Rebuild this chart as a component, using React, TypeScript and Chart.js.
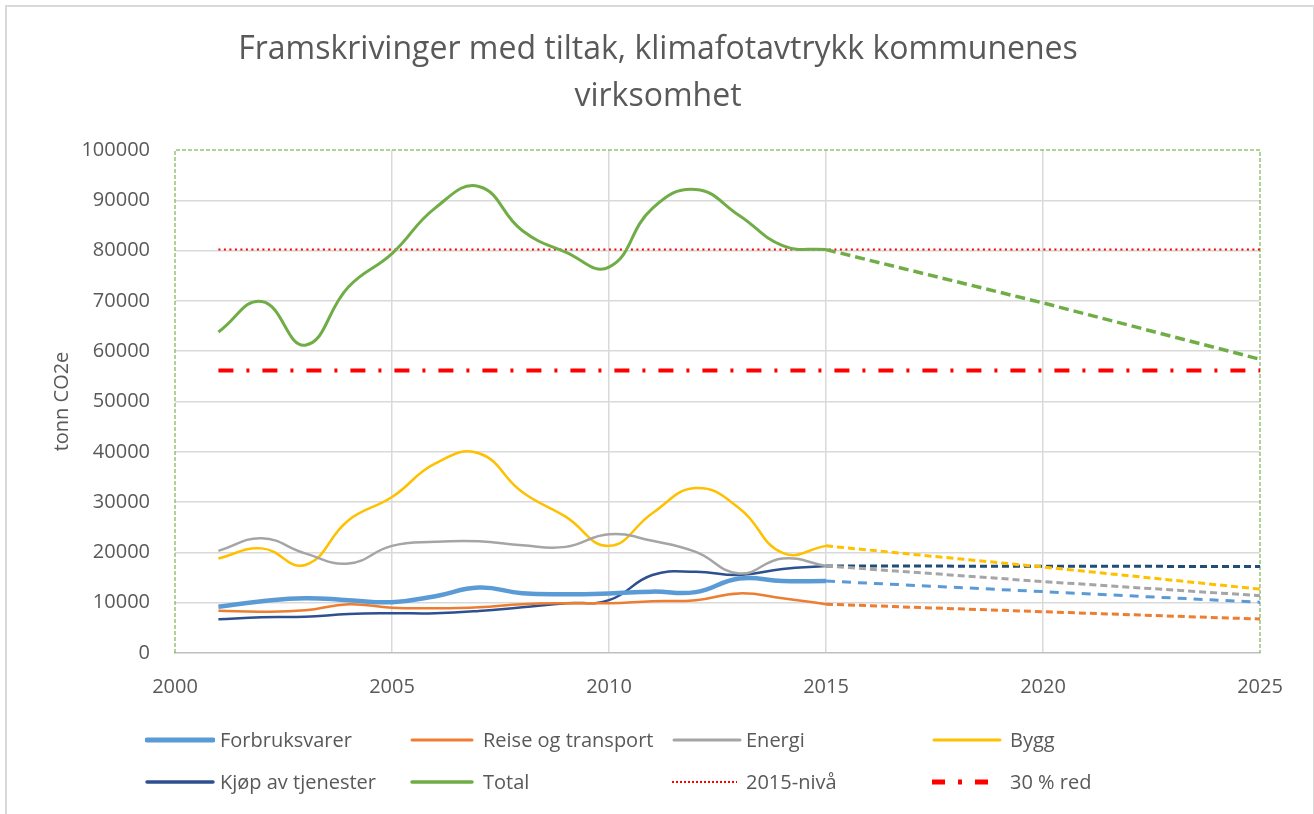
import React, { useEffect, useRef } from "react";
import { Chart, registerables } from "chart.js";

Chart.register(...registerables);

const titleLines = ["Framskrivinger med tiltak, klimafotavtrykk kommunenes", "virksomhet"];
const yAxisTitle = "tonn CO2e";

const years = [2001, 2002, 2003, 2004, 2005, 2006, 2007, 2008, 2009, 2010, 2011, 2012, 2013, 2014, 2015];
const forbruksvarer = [9200, 10300, 10900, 10500, 10100, 11300, 13000, 11900, 11700, 11850, 12200, 12100, 14800, 14300, 14300];
const reise = [8400, 8200, 8500, 9700, 9000, 8900, 9100, 9700, 9900, 9900, 10300, 10500, 11850, 10900, 9700];
const energi = [20300, 22800, 19800, 17800, 21300, 22100, 22200, 21400, 21100, 23600, 22300, 20100, 15800, 18800, 17300];
const bygg = [18800, 20800, 17500, 26400, 31000, 37700, 39700, 32000, 27100, 21300, 27800, 32800, 28800, 19900, 21300];
const kjop = [6700, 7100, 7200, 7750, 7900, 7900, 8350, 9100, 9900, 10500, 15500, 16150, 15500, 16700, 17300];
const total = [63800, 69900, 61200, 72800, 79400, 88500, 92750, 84000, 79700, 76700, 88400, 92150, 87000, 81000, 80200];

const projYears = [2015, 2020, 2025];
const forbruksProj = [14300, 12200, 10100];
const reiseProj = [9700, 8200, 6750];
const energiProj = [17300, 14200, 11400];
const byggProj = [21300, 17100, 12700];
const kjopProj = [17300, 17250, 17200];
const totalProj = [80200, 69600, 58400];

const refYears = [2001, 2025];
const nivaa2015 = [80200, 80200];
const red30 = [56140, 56140];

const legendLabels = [
  "Forbruksvarer", "Reise og transport", "Energi", "Bygg",
  "Kjøp av tjenester", "Total", "2015-nivå", "30 % red",
];

const FONT = "'Open Sans', 'Noto Sans', sans-serif";
const TXT = "#595959";

const pts = (xs: number[], ys: number[]) => xs.map((x, i) => ({ x, y: ys[i] }));

const boxPlugin = {
  id: "greenBox",
  beforeDatasetsDraw(chart: any) {
    const { ctx, chartArea } = chart;
    ctx.save();
    ctx.strokeStyle = "rgba(112,173,71,0.75)";
    ctx.lineWidth = 1.5;
    ctx.setLineDash([4, 2]);
    ctx.beginPath();
    ctx.moveTo(chartArea.left, chartArea.bottom);
    ctx.lineTo(chartArea.left, chartArea.top);
    ctx.lineTo(chartArea.right, chartArea.top);
    ctx.lineTo(chartArea.right, chartArea.bottom);
    ctx.stroke();
    ctx.restore();
  },
};

type Sample = { color: string; width: number; dash?: string; len: number; cap: "butt" | "round" };
const samples: Sample[] = [
  { color: "#5B9BD5", width: 5, len: 68, cap: "round" },
  { color: "#ED7D31", width: 3, len: 62, cap: "round" },
  { color: "#A5A5A5", width: 3, len: 68, cap: "round" },
  { color: "#FFC000", width: 3, len: 68, cap: "round" },
  { color: "#2E5090", width: 3.5, len: 68, cap: "round" },
  { color: "#70AD47", width: 3.5, len: 62, cap: "round" },
  { color: "#FF0000", width: 2, dash: "2 2", len: 65, cap: "butt" },
  { color: "#FF0000", width: 5, dash: "13 13 4 13", len: 58, cap: "butt" },
];
const colLeft = [145, 410, 672, 932];
const textLeft = [220, 483, 746, 1010];
const rowCenter = [740, 782];

export default function App() {
  const ref = useRef<HTMLCanvasElement | null>(null);

  useEffect(() => {
    if (!ref.current) return;
    const solid = (label: string, data: number[], color: string, width: number) => ({
      label,
      data: pts(years, data),
      borderColor: color,
      backgroundColor: color,
      borderWidth: width,
      pointRadius: 0,
      tension: 0.45,
      fill: false,
    });
    const dashed = (label: string, data: number[], color: string, width: number, dash: number[]) => ({
      label,
      data: pts(projYears, data),
      borderColor: color,
      backgroundColor: color,
      borderWidth: width,
      borderDash: dash,
      pointRadius: 0,
      tension: 0,
      fill: false,
    });
    const chart = new Chart(ref.current, {
      type: "line",
      data: {
        datasets: [
          solid("Forbruksvarer", forbruksvarer, "#5B9BD5", 4.5),
          dashed("Forbruksvarer proj", forbruksProj, "#5B9BD5", 3, [9, 7]),
          solid("Reise og transport", reise, "#ED7D31", 2.5),
          dashed("Reise proj", reiseProj, "#ED7D31", 3, [7, 4]),
          solid("Energi", energi, "#A5A5A5", 2.5),
          dashed("Energi proj", energiProj, "#A5A5A5", 3, [7, 4]),
          solid("Bygg", bygg, "#FFC000", 2.5),
          dashed("Bygg proj", byggProj, "#FFC000", 3, [7, 4]),
          solid("Kjøp av tjenester", kjop, "#2E5090", 2.5),
          dashed("Kjøp proj", kjopProj, "#1F4E79", 3, [7, 4]),
          solid("Total", total, "#70AD47", 3),
          dashed("Total proj", totalProj, "#70AD47", 3.5, [10, 5]),
          {
            label: "2015-nivå",
            data: pts(refYears, nivaa2015),
            borderColor: "#FF0000",
            borderWidth: 2,
            borderDash: [2, 3.5],
            pointRadius: 0,
            tension: 0,
          },
          {
            label: "30 % red",
            data: pts(refYears, red30),
            borderColor: "#FF0000",
            borderWidth: 4,
            borderDash: [15, 13, 3, 13],
            pointRadius: 0,
            tension: 0,
          },
        ],
      },
      options: {
        animation: false,
        responsive: false,
        maintainAspectRatio: false,
        layout: { padding: { left: 56, right: 54, top: 0, bottom: 111 } },
        plugins: {
          legend: { display: false },
          tooltip: { enabled: false },
          title: {
            display: true,
            text: titleLines,
            color: TXT,
            font: { family: FONT, size: 32, weight: "normal", lineHeight: 47 / 32 },
            padding: { top: 26.5, bottom: 29.5 },
          },
        },
        scales: {
          x: {
            type: "linear",
            min: 2000,
            max: 2025,
            afterFit: (s: any) => { s.height = 50; },
            ticks: {
              stepSize: 5,
              padding: 22,
              color: TXT,
              font: { family: FONT, size: 20 },
              callback: (v: any) => String(v),
              maxRotation: 0,
            },
            grid: {
              drawTicks: false,
              lineWidth: 1.5,
              color: (c: any) => (c.tick && (c.tick.value === 2000 || c.tick.value === 2025) ? "rgba(0,0,0,0)" : "#D9D9D9"),
            },
            border: { display: true, color: "#BFBFBF", width: 1.5 },
          },
          y: {
            min: 0,
            max: 100000,
            afterFit: (s: any) => { s.width = 119; },
            ticks: {
              stepSize: 10000,
              padding: 25,
              color: TXT,
              font: { family: FONT, size: 20 },
              callback: (v: any) => String(v),
            },
            grid: {
              drawTicks: false,
              lineWidth: 1.5,
              color: (c: any) => (c.tick && (c.tick.value === 100000 || c.tick.value === 0) ? "rgba(0,0,0,0)" : "#D9D9D9"),
            },
            border: { display: false },
            title: {
              display: true,
              text: yAxisTitle,
              color: TXT,
              font: { family: FONT, size: 20, lineHeight: 0.6 },
              padding: { top: 0, bottom: 0 },
            },
          },
        },
      },
      plugins: [boxPlugin],
    } as any);
    return () => chart.destroy();
  }, []);

  return (
    <div style={{ position: "absolute", left: 0, top: 0, width: 1314, height: 814, overflow: "hidden", background: "#fff" }}>
      <div
        style={{
          position: "absolute",
          left: 5,
          top: 5,
          width: 1306,
          height: 830,
          borderLeft: "2px solid #D9D9D9",
          borderTop: "2px solid #D9D9D9",
          borderRight: "1px solid #D9D9D9",
          pointerEvents: "none",
        }}
      />
      <canvas ref={ref} width={1314} height={814} style={{ position: "absolute", left: 0, top: 0, width: 1314, height: 814 }} />
      {legendLabels.map((lab, i) => {
        const s = samples[i];
        const col = i % 4;
        const row = Math.floor(i / 4);
        return (
          <React.Fragment key={lab}>
            <svg
              width={70}
              height={12}
              style={{ position: "absolute", left: colLeft[col], top: rowCenter[row] - 6, display: "block" }}
            >
              <line
                x1={s.cap === "round" ? 2 : 0}
                y1={6}
                x2={s.len}
                y2={6}
                stroke={s.color}
                strokeWidth={s.width}
                strokeDasharray={s.dash}
                strokeLinecap={s.cap}
              />
            </svg>
            <div
              style={{
                position: "absolute",
                left: textLeft[col],
                top: rowCenter[row] - 14,
                height: 28,
                lineHeight: "28px",
                fontFamily: FONT,
                fontSize: 20,
                color: TXT,
                whiteSpace: "nowrap",
              }}
            >
              {lab}
            </div>
          </React.Fragment>
        );
      })}
    </div>
  );
}
